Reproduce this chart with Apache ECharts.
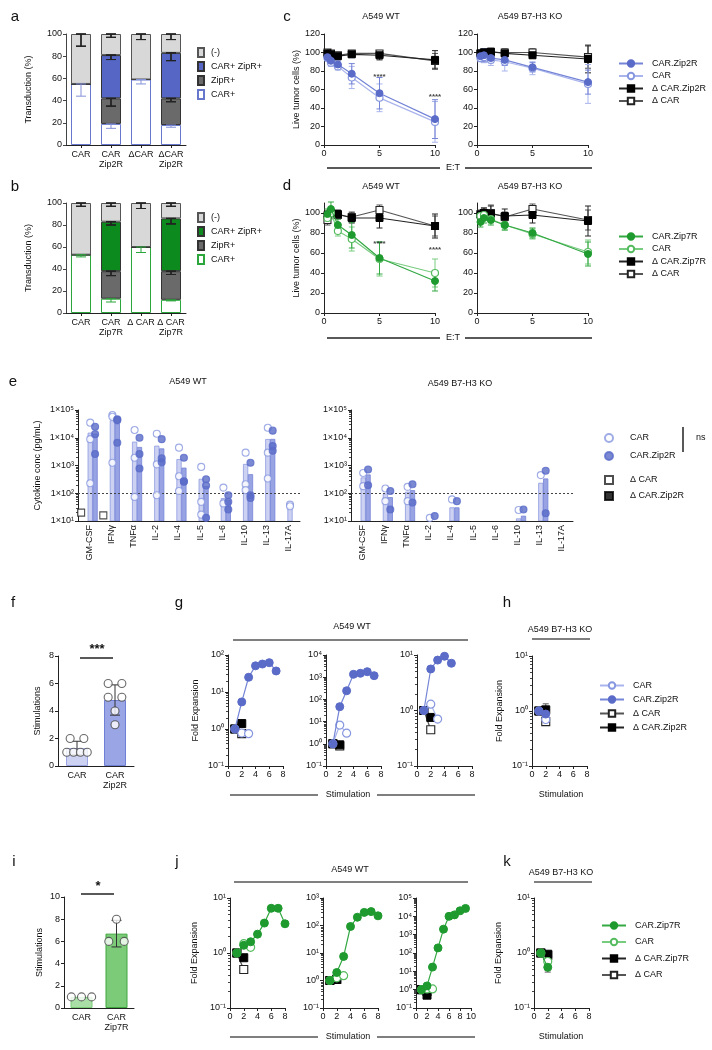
<!DOCTYPE html>
<html><head><meta charset="utf-8">
<script src="https://cdn.jsdelivr.net/npm/echarts@6/dist/echarts.min.js"></script>
<style>html,body{margin:0;padding:0;background:#fff}#c{width:712px;height:1050px}</style>
</head><body><div id="c"></div><script>
// ================= DATA =================
// a / b : transduction (stacked %, bottom -> top: CAR+, ZipR+, CAR+ ZipR+, (-))
const a_categories = ['CAR', 'CAR\nZip2R', 'ΔCAR', 'ΔCAR\nZip2R'];
const a_carPos   = [55, 19, 59, 18];
const a_zipPos   = [0, 23, 0, 24];
const a_double   = [0, 39, 0, 41];
const a_negative = [45, 19, 41, 17];
const a_sdCarPos = [11, 4, 4, 2];
const a_sdZipPos = [0, 7, 0, 3];
const a_sdDouble = [0, 4, 0, 7];
const a_sdNegative = [11, 3, 5, 5];

const b_categories = ['CAR', 'CAR\nZip7R', 'Δ CAR', 'Δ CAR\nZip7R'];
const b_carPos   = [53, 13, 60, 12];
const b_zipPos   = [0, 25, 0, 26];
const b_double   = [0, 45, 0, 48];
const b_negative = [47, 17, 40, 14];
const b_sdCarPos = [2, 3, 5, 1];
const b_sdZipPos = [0, 4, 0, 3];
const b_sdDouble = [0, 3, 0, 5];
const b_sdNegative = [3, 3, 5, 3];

// c / d : killing vs E:T
const et_ratios = [0.3125, 0.625, 1.25, 2.5, 5, 10];
const c_wt_zip  = [95, 91, 87, 77, 56, 28];
const c_wt_car  = [94, 89, 85, 73, 51, 25];
const c_wt_dzip = [99, 98, 96, 98, 97, 92];
const c_wt_dcar = [100, 99, 97, 99, 99, 91];
const c_wt_sdZip  = [3, 4, 4, 11, 17, 21];
const c_wt_sdCar  = [3, 4, 4, 12, 15, 22];
const c_wt_sdDzip = [2, 2, 3, 3, 5, 10];
const c_wt_sdDcar = [2, 2, 2, 3, 3, 8];
const c_ko_zip  = [96, 97, 94, 92, 84, 68];
const c_ko_car  = [94, 95, 92, 90, 83, 66];
const c_ko_dzip = [99, 100, 101, 99, 97, 93];
const c_ko_dcar = [99, 100, 100, 100, 100, 95];
const c_ko_sdZip  = [5, 7, 5, 6, 5, 13];
const c_ko_sdCar  = [4, 6, 6, 10, 7, 21];
const c_ko_sdDzip = [3, 4, 3, 4, 3, 15];
const c_ko_sdDcar = [3, 3, 3, 4, 4, 12];
const c_stars = [[5, 74], [10, 52]];

const d_wt_zip  = [99, 104, 88, 78, 55, 32];
const d_wt_car  = [95, 100, 82, 74, 54, 40];
const d_wt_dzip = [98, 100, 99, 95, 95, 87];
const d_wt_dcar = [93, 100, 98, 96, 103, 87];
const d_wt_sdZip  = [5, 7, 6, 13, 16, 10];
const d_wt_sdCar  = [4, 6, 5, 12, 17, 14];
const d_wt_sdDzip = [4, 5, 4, 5, 10, 12];
const d_wt_sdDcar = [5, 5, 4, 5, 5, 10];
const d_ko_zip  = [91, 95, 93, 88, 80, 59];
const d_ko_car  = [97, 98, 94, 88, 79, 61];
const d_ko_dzip = [98, 100, 99, 97, 98, 92];
const d_ko_dcar = [99, 100, 100, 96, 104, 93];
const d_ko_sdZip  = [5, 5, 5, 5, 5, 12];
const d_ko_sdCar  = [4, 4, 4, 5, 5, 12];
const d_ko_sdDzip = [4, 5, 8, 7, 8, 15];
const d_ko_sdDcar = [4, 5, 8, 5, 5, 10];
const d_stars = [[5, 69], [10, 63]];

// e : cytokines (pg/mL)
const e_cytokines = ['GM-CSF', 'IFNγ', 'TNFα', 'IL-2', 'IL-4', 'IL-5', 'IL-6', 'IL-10', 'IL-13', 'IL-17A'];
const e_wt_car_points = [[35000, 8900, 230], [66000, 57000, 1260], [19000, 1900, 74], [14000, 1100, 85], [4400, 410, 120], [890, 49, 17], [160, 43], [2900, 210, 130], [23000, 2900, 340], [39, 34]];
const e_wt_zip_points = [[25000, 13500, 2600], [46000, 43000, 6600], [10000, 2600, 780], [8900, 1800, 1300], [1900, 270, 260], [320, 190, 13], [85, 49, 26], [1260, 85, 68], [18000, 5000, 3400], []];
const e_wt_car_mean = [14700, 41000, 7000, 5000, 1650, 320, 65, 1100, 8700, 36];
const e_wt_zip_mean = [13700, 32000, 4500, 4000, 810, 175, 55, 470, 8800, null];
const e_wt_dcar_points = [[20], [16], [], [], [], [], [], [], [], []];
const e_wt_dzip_points = [[], [], [], [], [], [], [], [], [], []];
const e_ko_car_points = [[540, 180], [148, 52], [170, 52], [13], [60], [], [], [25], [450], []];
const e_ko_zip_points = [[720, 195], [120, 26], [210, 46], [15], [52], [], [], [26], [650, 19], []];
const e_ko_car_mean = [360, 95, 110, null, 30, null, null, 12, 230, null];
const e_ko_zip_mean = [460, 70, 125, null, 30, null, null, 15, 330, null];
const e_ko_dcar_points = [[], [], [], [], [], [], [], [], [], []];
const e_ko_dzip_points = [[], [], [], [], [], [], [], [], [], []];

// f / i : number of stimulations
const f_categories = ['CAR', 'CAR\nZip2R'];
const f_mean = [1.3, 4.8];
const f_sd = [0.5, 1.1];
const f_car_points = [2, 2, 1, 1, 1, 1];
const f_zip_points = [6, 6, 5, 5, 4, 3];
const i_categories = ['CAR', 'CAR\nZip7R'];
const i_mean = [1, 6.7];
const i_sd = [0, 1.2];
const i_car_points = [1, 1, 1];
const i_zip_points = [6, 8, 6];

// g / h / j / k : fold expansion per stimulation  [stimulation, fold]
const g1_zip = [[1, 1], [2, 5.4], [3, 25], [4, 51], [5, 57], [6, 62], [7, 37]];
const g1_car = [[1, 1], [2, 0.78], [3, 0.75]];
const g1_dcar = [[1, 1], [2, 0.75]];
const g1_dzip = [[1, 1], [2, 1.4]];
const g2_zip = [[1, 1], [2, 47], [3, 245], [4, 1350], [5, 1500], [6, 1770], [7, 1170]];
const g2_car = [[1, 1], [2, 7], [3, 3]];
const g2_dcar = [[1, 1], [2, 0.8]];
const g2_dzip = [[1, 1], [2, 0.9]];
const g3_zip = [[1, 1], [2, 5.6], [3, 8.1], [4, 9.5], [5, 7.1]];
const g3_car = [[1, 1], [2, 1.3], [3, 0.7]];
const g3_dcar = [[1, 1], [2, 0.45]];
const g3_dzip = [[1, 1], [2, 0.75]];
const h_car = [[1, 1], [2, 0.7]];
const h_zip = [[1, 1], [2, 0.88]];
const h_dcar = [[1, 1], [2, 0.64]];
const h_dzip = [[1, 1], [2, 1.05]];
const h_err = [[2, 0.8, 1.35]];
const j1_zip = [[1, 1], [2, 1.38], [3, 1.6], [4, 2.2], [5, 3.5], [6, 6.5], [7, 6.5], [8, 3.4]];
const j1_car = [[1, 1], [2, 1.48], [3, 1.27]];
const j1_dzip = [[1, 1], [2, 0.82]];
const j1_dcar = [[1, 1], [2, 0.5]];
const j2_zip = [[1, 1], [2, 1.95], [3, 7.5], [4, 92], [5, 200], [6, 300], [7, 320], [8, 225]];
const j2_car = [[1, 1], [2, 1.25], [3, 1.5]];
const j2_dzip = [[1, 1], [2, 1.1]];
const j2_dcar = [[1, 1], [2, 1.1]];
const j3_zip = [[1, 1], [2, 1.6], [3, 17], [4, 190], [5, 2000], [6, 10000], [7, 12000], [8, 20000], [9, 27000]];
const j3_car = [[1, 1], [2, 1.1], [3, 1.1]];
const j3_dzip = [[1, 1], [2, 0.5]];
const j3_dcar = [[1, 1], [2, 0.8]];
const k_zip = [[1, 1], [2, 0.55]];
const k_car = [[1, 1], [2, 0.7]];
const k_dzip = [[1, 1], [2, 0.95]];
const k_dcar = [[1, 1], [2, 0.9]];
const k_err = [[2, 0.45, 0.7], [2, 0.8, 1.05]];

// ================= STYLE =================
const FONT = 'Liberation Sans, Arial, Helvetica, sans-serif';
const TXT = '#111';
const BLUE = '#5a6bc8', BLUE_L = '#8797df', BLUE_LINE = '#7484d6', BLUE_PALE = '#aab4ec';
const GREEN = '#1f9a2f', GREEN_L = '#55bb5f', GREEN_LINE = '#33a843';
const ST = {
  zip2: {symbol: 'circle', size: 7, fill: BLUE, stroke: BLUE, bw: 1, line: BLUE_LINE, err: BLUE_LINE},
  car2: {symbol: 'circle', size: 7, fill: '#fff', stroke: BLUE_L, bw: 1.2, line: BLUE_PALE, err: BLUE_PALE},
  zip7: {symbol: 'circle', size: 7, fill: GREEN, stroke: GREEN, bw: 1, line: GREEN_LINE, err: GREEN_LINE},
  car7: {symbol: 'circle', size: 7, fill: '#fff', stroke: GREEN_L, bw: 1.2, line: '#78cc80', err: '#78cc80'},
  dzip: {symbol: 'rect', size: 7, fill: '#000', stroke: '#000', bw: 1, line: '#222', err: '#222'},
  dcar: {symbol: 'rect', size: 7, fill: '#fff', stroke: '#222', bw: 1.1, line: '#555', err: '#555'}
};
const E_SLOT = {dcar: -0.36, dzip: -0.16, car: 0.05, zip: 0.27};
const F_JIT_CAR = [-0.18, 0.18, -0.27, -0.09, 0.09, 0.27];
const F_JIT_ZIP = [-0.18, 0.18, -0.18, 0.18, 0, 0];
const I_JIT_CAR = [-0.29, 0, 0.29];
const I_JIT_ZIP = [-0.22, 0, 0.22];

const DISPLAY = {};

// ================= HELPERS =================
const SUP = {'-': '⁻', '0': '⁰', '1': '¹', '2': '²', '3': '³', '4': '⁴', '5': '⁵', '6': '⁶'};
const sup = n => String(n).split('').map(c => SUP[c]).join('');
const logLabel = v => '10' + sup(Math.round(Math.log10(v)));
const logLabelE = v => '1×10' + sup(Math.round(Math.log10(v)));

function merge(a, b) {
  for (const k in b) {
    if (b[k] && typeof b[k] === 'object' && !Array.isArray(b[k]) && a[k] && typeof a[k] === 'object' && !Array.isArray(a[k])) a[k] = merge(Object.assign({}, a[k]), b[k]);
    else a[k] = b[k];
  }
  return a;
}
function axisBase(extra) {
  return merge({
    axisLine: {show: true, onZero: false, lineStyle: {color: '#222', width: 1}},
    axisTick: {show: true, length: 3, lineStyle: {color: '#222', width: 1}},
    axisLabel: {fontSize: 9, color: TXT, fontFamily: FONT, margin: 4},
    splitLine: {show: false},
    nameTextStyle: {fontSize: 9, color: TXT, fontFamily: FONT},
    nameLocation: 'middle', nameRotate: 90
  }, extra);
}
const option = {animation: false, backgroundColor: '#fff', textStyle: {fontFamily: FONT},
  grid: [], xAxis: [], yAxis: [], series: [], legend: [], graphic: []};
function addGrid(r) { option.grid.push({left: r[0], top: r[1], width: r[2], height: r[3]}); return option.grid.length - 1; }
function addX(g, spec) { option.xAxis.push(axisBase(Object.assign({gridIndex: g}, spec))); return option.xAxis.length - 1; }
function addY(g, spec) { option.yAxis.push(axisBase(Object.assign({gridIndex: g}, spec))); return option.yAxis.length - 1; }

function errSeries(xi, yi, data, color, capW, z) {
  return {type: 'custom', xAxisIndex: xi, yAxisIndex: yi, silent: true, z: z || 2, data,
    encode: {x: 0, y: [1, 2]},
    renderItem: function (params, api) {
      const x = api.value(0), lo = api.value(1), hi = api.value(2);
      const p1 = api.coord([x, hi]), p2 = api.coord([x, lo]);
      const style = {stroke: color, lineWidth: 1, fill: null};
      return {type: 'group', children: [
        {type: 'line', shape: {x1: p1[0], y1: p1[1], x2: p2[0], y2: p2[1]}, style},
        {type: 'line', shape: {x1: p1[0] - capW, y1: p1[1], x2: p1[0] + capW, y2: p1[1]}, style},
        {type: 'line', shape: {x1: p2[0] - capW, y1: p2[1], x2: p2[0] + capW, y2: p2[1]}, style}
      ]};
    }};
}
function lineSeries(name, disp, xi, yi, data, st, z) {
  DISPLAY[name] = disp;
  return {type: 'line', name, xAxisIndex: xi, yAxisIndex: yi, data, symbol: st.symbol, symbolSize: st.size,
    showSymbol: true, showAllSymbol: true, z: z || 4,
    itemStyle: {color: st.fill, borderColor: st.stroke, borderWidth: st.bw},
    lineStyle: {color: st.line, width: 1.2}};
}
function pair(xs, ys) { return xs.map((x, i) => [x, ys[i]]); }
function errData(xs, ys, sds) { return xs.map((x, i) => [x, ys[i] - sds[i], ys[i] + sds[i]]); }

function text(x, y, s, o) {
  option.graphic.push({type: 'text', silent: true, style: Object.assign({x, y, text: s, fill: TXT, fontSize: 9,
    fontFamily: FONT, align: 'center', verticalAlign: 'middle'}, o || {})});
}
function hline(x1, x2, y, o) {
  option.graphic.push({type: 'line', silent: true, shape: {x1, y1: y, x2, y2: y},
    style: Object.assign({stroke: '#222', lineWidth: 1.5}, o || {})});
}

// ================= a / b =================
function stackedPanel(rect, cats, segs, sds, colors, names, legendTop, yName) {
  const g = addGrid(rect);
  const xi = addX(g, {type: 'category', data: cats, axisTick: {alignWithLabel: true},
    axisLabel: {interval: 0, lineHeight: 10, margin: 5}});
  const yi = addY(g, {type: 'value', min: 0, max: 100, interval: 20, name: yName, nameGap: 33,
    axisLine: {lineStyle: {color: '#444'}}, axisTick: {lineStyle: {color: '#444'}}});
  segs.forEach((arr, s) => {
    option.series.push({type: 'bar', name: names[s], xAxisIndex: xi, yAxisIndex: yi, stack: 'st' + g, barWidth: 20,
      data: arr, z: 2, itemStyle: {color: colors[s].fill, borderColor: colors[s].stroke, borderWidth: 1}});
  });
  const err = [];
  cats.forEach((c, i) => {
    let cum = 0;
    segs.forEach((arr, s) => {
      cum += arr[i];
      if (sds[s][i] > 0) err.push({value: [i, cum - sds[s][i], cum], c: colors[s].err});
    });
  });
  colors.forEach((col) => {
    const d = err.filter(e => e.c === col.err).map(e => e.value);
    option.series.push(errSeries(xi, yi, d, col.err, 5, 3));
  });
  option.legend.push({orient: 'vertical', left: 192, top: legendTop, itemWidth: 6, itemHeight: 9, itemGap: 3,
    icon: 'rect', data: names.slice().reverse(), formatter: n => DISPLAY[n] || n,
    textStyle: {fontSize: 9, color: TXT, fontFamily: FONT, padding: [0, 0, 0, 2]}, selectedMode: false});
}
const names_a = ['a:CAR+', 'a:ZipR+', 'a:CAR+ ZipR+', 'a:(-)'];
const names_b = ['b:CAR+', 'b:ZipR+', 'b:CAR+ ZipR+', 'b:(-)'];
[names_a, names_b].forEach(arr => arr.forEach(n => DISPLAY[n] = n.slice(2)));
stackedPanel([66, 34, 120, 111], a_categories, [a_carPos, a_zipPos, a_double, a_negative],
  [a_sdCarPos, a_sdZipPos, a_sdDouble, a_sdNegative],
  [{fill: '#fff', stroke: '#6677cc', err: '#8391d8'}, {fill: '#6a6a6a', stroke: '#333', err: '#222'},
   {fill: '#5566c4', stroke: '#333', err: '#222'}, {fill: '#d8d8d8', stroke: '#555', err: '#222'}],
  names_a, 42, 'Transduction (%)');
stackedPanel([66, 203, 120, 110], b_categories, [b_carPos, b_zipPos, b_double, b_negative],
  [b_sdCarPos, b_sdZipPos, b_sdDouble, b_sdNegative],
  [{fill: '#fff', stroke: '#2aa63a', err: '#2aa63a'}, {fill: '#6a6a6a', stroke: '#333', err: '#222'},
   {fill: '#0d8a1d', stroke: '#333', err: '#222'}, {fill: '#d8d8d8', stroke: '#555', err: '#222'}],
  names_b, 207, 'Transduction (%)');

// ================= c / d =================
function etPanel(rect, ymax, yName, sets, stars) {
  const g = addGrid(rect);
  const xi = addX(g, {type: 'value', min: 0, max: 10, interval: 5});
  const yspec = {type: 'value', min: 0, max: ymax, interval: 20, name: yName, nameGap: 21};
  if (ymax === 110) { yspec.axisLabel = {customValues: [0, 20, 40, 60, 80, 100]}; yspec.axisTick = {customValues: [0, 20, 40, 60, 80, 100]}; }
  const yi = addY(g, yspec);
  sets.forEach(s => option.series.push(errSeries(xi, yi, errData(et_ratios, s.y, s.sd), s.st.err, 3, 2)));
  sets.forEach((s, k) => option.series.push(lineSeries(s.name, s.disp, xi, yi, pair(et_ratios, s.y), s.st, 4 + k)));
  if (stars) option.series.push({type: 'scatter', xAxisIndex: xi, yAxisIndex: yi, data: stars, symbolSize: 0, silent: true,
    label: {show: true, position: 'inside', formatter: '****', fontSize: 8, color: TXT, fontWeight: 'bold'}});
  return g;
}
etPanel([324, 34, 111, 111], 120, 'Live tumor cells (%)', [
  {name: 'c:dcar', disp: 'Δ CAR', y: c_wt_dcar, sd: c_wt_sdDcar, st: ST.dcar},
  {name: 'c:dzip', disp: 'Δ CAR.Zip2R', y: c_wt_dzip, sd: c_wt_sdDzip, st: ST.dzip},
  {name: 'c:car', disp: 'CAR', y: c_wt_car, sd: c_wt_sdCar, st: ST.car2},
  {name: 'c:zip', disp: 'CAR.Zip2R', y: c_wt_zip, sd: c_wt_sdZip, st: ST.zip2}], c_stars);
etPanel([477, 34, 111, 111], 120, '', [
  {name: 'c:dcar', disp: 'Δ CAR', y: c_ko_dcar, sd: c_ko_sdDcar, st: ST.dcar},
  {name: 'c:dzip', disp: 'Δ CAR.Zip2R', y: c_ko_dzip, sd: c_ko_sdDzip, st: ST.dzip},
  {name: 'c:car', disp: 'CAR', y: c_ko_car, sd: c_ko_sdCar, st: ST.car2},
  {name: 'c:zip', disp: 'CAR.Zip2R', y: c_ko_zip, sd: c_ko_sdZip, st: ST.zip2}]);
etPanel([324, 203, 111, 110], 110, 'Live tumor cells (%)', [
  {name: 'd:dcar', disp: 'Δ CAR', y: d_wt_dcar, sd: d_wt_sdDcar, st: ST.dcar},
  {name: 'd:dzip', disp: 'Δ CAR.Zip7R', y: d_wt_dzip, sd: d_wt_sdDzip, st: ST.dzip},
  {name: 'd:car', disp: 'CAR', y: d_wt_car, sd: d_wt_sdCar, st: ST.car7},
  {name: 'd:zip', disp: 'CAR.Zip7R', y: d_wt_zip, sd: d_wt_sdZip, st: ST.zip7}], d_stars);
etPanel([477, 203, 111, 110], 110, '', [
  {name: 'd:dcar', disp: 'Δ CAR', y: d_ko_dcar, sd: d_ko_sdDcar, st: ST.dcar},
  {name: 'd:dzip', disp: 'Δ CAR.Zip7R', y: d_ko_dzip, sd: d_ko_sdDzip, st: ST.dzip},
  {name: 'd:car', disp: 'CAR', y: d_ko_car, sd: d_ko_sdCar, st: ST.car7},
  {name: 'd:zip', disp: 'CAR.Zip7R', y: d_ko_zip, sd: d_ko_sdZip, st: ST.zip7}]);
const lineLegend = (left, top, gap, data) => option.legend.push({orient: 'vertical', left, top, itemWidth: 24, itemHeight: 8,
  itemGap: gap, data, formatter: n => DISPLAY[n] || n, selectedMode: false,
  textStyle: {fontSize: 9, color: TXT, fontFamily: FONT, padding: [0, 0, 0, 4]}});
lineLegend(613, 54, 3.5, ['c:zip', 'c:car', 'c:dzip', 'c:dcar']);
lineLegend(613, 227, 3.5, ['d:zip', 'd:car', 'd:dzip', 'd:dcar']);

// ================= e =================
function flatPts(pts, slot) {
  const out = [];
  pts.forEach((arr, i) => arr.forEach(v => out.push([i + slot, v])));
  return out;
}
function meanPts(means, slot) { return means.map((v, i) => v == null ? null : [i + slot, v]).filter(d => d); }
function barSeries(xi, yi, data, fill, stroke) {
  return {type: 'custom', xAxisIndex: xi, yAxisIndex: yi, silent: true, z: 2, data, encode: {x: 0, y: 1}, clip: true,
    renderItem: function (params, api) {
      const p = api.coord([api.value(0), api.value(1)]);
      const base = api.coord([api.value(0), 10]);
      return {type: 'rect', shape: {x: p[0] - 2.2, y: p[1], width: 4.4, height: base[1] - p[1]},
        style: {fill, stroke, lineWidth: 0.8}};
    }};
}
function ePanel(rect, yName, carPts, zipPts, dcarPts, dzipPts, carMean, zipMean) {
  const g = addGrid(rect);
  addX(g, {type: 'category', data: e_cytokines, axisTick: {show: false},
    axisLabel: {rotate: 90, interval: 0, margin: 4}});
  const xv = addX(g, {type: 'value', min: -0.5, max: 9.5, show: false});
  const yi = addY(g, {type: 'log', logBase: 10, min: 10, max: 100000, name: yName, nameGap: 36,
    axisLabel: {formatter: logLabelE}, minorTick: {show: true, splitNumber: 9, length: 2, lineStyle: {color: '#444'}}});
  option.series.push(barSeries(xv, yi, meanPts(carMean, E_SLOT.car), '#cdd2f3', '#8e9ade'));
  option.series.push(barSeries(xv, yi, meanPts(zipMean, E_SLOT.zip), '#98a3e4', '#7583d6'));
  const sc = (name, disp, data, sym, fill, stroke) => {
    DISPLAY[name] = disp;
    return {type: 'scatter', name, xAxisIndex: xv, yAxisIndex: yi, data, symbol: sym, symbolSize: 7, z: 5,
      itemStyle: {color: fill, borderColor: stroke, borderWidth: 1.1}};
  };
  const s1 = sc('e:car', 'CAR', flatPts(carPts, E_SLOT.car), 'circle', '#fff', BLUE_L);
  s1.markLine = {silent: true, symbol: 'none', data: [{yAxis: 100}], label: {show: false},
    lineStyle: {type: [2, 2], color: '#444', width: 1}};
  option.series.push(s1);
  option.series.push(sc('e:zip', 'CAR.Zip2R', flatPts(zipPts, E_SLOT.zip), 'circle', BLUE, BLUE));
  option.series.push(sc('e:dcar', 'Δ CAR', flatPts(dcarPts, E_SLOT.dcar), 'rect', '#fff', '#222'));
  option.series.push(sc('e:dzip', 'Δ CAR.Zip2R', flatPts(dzipPts, E_SLOT.dzip), 'rect', '#000', '#000'));
}
ePanel([78, 410, 222, 111], 'Cytokine conc (pg/mL)', e_wt_car_points, e_wt_zip_points, e_wt_dcar_points, e_wt_dzip_points, e_wt_car_mean, e_wt_zip_mean);
ePanel([351, 410, 222, 111], '', e_ko_car_points, e_ko_zip_points, e_ko_dcar_points, e_ko_dzip_points, e_ko_car_mean, e_ko_zip_mean);
const dotLegend = (top, gap, data) => option.legend.push({orient: 'vertical', left: 599, top, itemWidth: 8, itemHeight: 8,
  itemGap: gap, data, formatter: n => DISPLAY[n] || n, selectedMode: false,
  textStyle: {fontSize: 9, color: TXT, fontFamily: FONT, padding: [0, 0, 0, 12]}});
dotLegend(428, 8, ['e:car', 'e:zip']);
dotLegend(470, 6, ['e:dcar', 'e:dzip']);

// ================= f / i =================
function stimPanel(rect, cats, means, sds, carPts, zipPts, jitC, jitZ, max, interval, barCols, name) {
  const g = addGrid(rect);
  const xc = addX(g, {type: 'category', data: cats, axisTick: {show: false}, axisLabel: {interval: 0, lineHeight: 10, margin: 5}});
  const xv = addX(g, {type: 'value', min: -0.5, max: 1.5, show: false});
  const yi = addY(g, {type: 'value', min: 0, max, interval, name: 'Stimulations', nameGap: name});
  option.series.push({type: 'bar', xAxisIndex: xc, yAxisIndex: yi, barWidth: 22, z: 2, silent: true,
    data: means.map((v, i) => ({value: v, itemStyle: {color: barCols[i].fill, borderColor: barCols[i].stroke, borderWidth: 1}}))});
  option.series.push(errSeries(xv, yi, means.map((m, i) => [i, m - sds[i], m + sds[i]]).filter((d, i) => sds[i] > 0), '#333', 5, 3));
  const pts = carPts.map((v, k) => [jitC[k], v]).concat(zipPts.map((v, k) => [1 + jitZ[k], v]));
  option.series.push({type: 'scatter', xAxisIndex: xv, yAxisIndex: yi, data: pts, symbol: 'circle', symbolSize: 8, z: 5,
    itemStyle: {color: '#fff', borderColor: '#444', borderWidth: 1.1}});
}
stimPanel([58, 656, 76, 110], f_categories, f_mean, f_sd, f_car_points, f_zip_points, F_JIT_CAR, F_JIT_ZIP, 8, 2,
  [{fill: '#cdd2f2', stroke: '#9aa4e2'}, {fill: '#9aa5e6', stroke: '#7080d4'}], 16);
stimPanel([64, 897, 70, 111], i_categories, i_mean, i_sd, i_car_points, i_zip_points, I_JIT_CAR, I_JIT_ZIP, 10, 2,
  [{fill: '#a9dfa6', stroke: '#7ccc78'}, {fill: '#7ccb79', stroke: '#3fa63f'}], 20);

// ================= g / h / j / k =================
function foldPanel(rect, ymin, ymax, xmax, yName, nameGap, sets, errs) {
  const g = addGrid(rect);
  const xi = addX(g, {type: 'value', min: 0, max: xmax, interval: 2});
  const yi = addY(g, {type: 'log', logBase: 10, min: ymin, max: ymax, name: yName, nameGap,
    axisLabel: {formatter: logLabel}, minorTick: {show: true, splitNumber: 9, length: 2, lineStyle: {color: '#444'}}});
  if (errs) option.series.push(errSeries(xi, yi, errs, '#555', 3, 2));
  sets.forEach((s, k) => option.series.push(lineSeries(s.name, s.disp, xi, yi, s.data, Object.assign({}, s.st, {size: 8}), 4 + k)));
}
const gSets = (car, zip, dcar, dzip) => [
  {name: 'h:dcar', disp: 'Δ CAR', data: dcar, st: ST.dcar},
  {name: 'h:dzip', disp: 'Δ CAR.Zip2R', data: dzip, st: ST.dzip},
  {name: 'h:car', disp: 'CAR', data: car, st: ST.car2},
  {name: 'h:zip', disp: 'CAR.Zip2R', data: zip, st: ST.zip2}];
const jSets = (car, zip, dcar, dzip) => [
  {name: 'k:dcar', disp: 'Δ CAR', data: dcar, st: ST.dcar},
  {name: 'k:dzip', disp: 'Δ CAR.Zip7R', data: dzip, st: ST.dzip},
  {name: 'k:car', disp: 'CAR', data: car, st: ST.car7},
  {name: 'k:zip', disp: 'CAR.Zip7R', data: zip, st: ST.zip7}];
foldPanel([228, 655, 55, 111], 0.1, 100, 8, 'Fold Expansion', 28, gSets(g1_car, g1_zip, g1_dcar, g1_dzip));
foldPanel([326, 655, 55, 111], 0.1, 10000, 8, '', 28, gSets(g2_car, g2_zip, g2_dcar, g2_dzip));
foldPanel([417, 655, 55, 111], 0.1, 10, 8, '', 28, gSets(g3_car, g3_zip, g3_dcar, g3_dzip));
foldPanel([532, 656, 55, 110], 0.1, 10, 8, 'Fold Expansion', 28, gSets(h_car, h_zip, h_dcar, h_dzip), h_err);
foldPanel([230, 898, 55, 110], 0.1, 10, 8, 'Fold Expansion', 31, jSets(j1_car, j1_zip, j1_dcar, j1_dzip));
foldPanel([323, 898, 55, 110], 0.1, 1000, 8, '', 28, jSets(j2_car, j2_zip, j2_dcar, j2_dzip));
foldPanel([416, 898, 55, 110], 0.1, 100000, 10, '', 28, jSets(j3_car, j3_zip, j3_dcar, j3_dzip));
foldPanel([534, 898, 55, 110], 0.1, 10, 8, 'Fold Expansion', 31, jSets(k_car, k_zip, k_dcar, k_dzip), k_err);
lineLegend(594, 676, 5, ['h:car', 'h:zip', 'h:dcar', 'h:dzip']);
lineLegend(596, 916, 7.5, ['k:zip', 'k:car', 'k:dzip', 'k:dcar']);

// ================= annotations =================
const L = {fontSize: 15, fontFamily: FONT};
text(15, 17, 'a', L); text(15, 187, 'b', L); text(287, 17, 'c', L); text(287, 186, 'd', L);
text(13, 382, 'e', L); text(13, 603, 'f', L); text(179, 603, 'g', L); text(507, 603, 'h', L);
text(14, 862, 'i', L); text(177, 862, 'j', L); text(507, 862, 'k', L);
text(381, 17, 'A549 WT'); text(530, 17, 'A549 B7-H3 KO');
text(381, 187, 'A549 WT'); text(530, 187, 'A549 B7-H3 KO');
[168, 338].forEach(y => { hline(327, 440, y); text(453, y, 'E:T'); hline(465, 592, y); });
text(188, 382, 'A549 WT'); text(460, 384, 'A549 B7-H3 KO');
option.graphic.push({type: 'line', silent: true, shape: {x1: 683, y1: 427, x2: 683, y2: 452}, style: {stroke: '#222', lineWidth: 1.5}});
text(696, 438, 'ns', {align: 'left'});
text(352, 627, 'A549 WT'); hline(233, 468, 640, {stroke: '#555'});
text(560, 630, 'A549 B7-H3 KO'); hline(532, 590, 639, {stroke: '#555'});
text(350, 870, 'A549 WT'); hline(234, 468, 882, {stroke: '#555'});
text(561, 873, 'A549 B7-H3 KO'); hline(534, 592, 882, {stroke: '#555'});
[795, 1037].forEach(y => { hline(230, 318, y, {stroke: '#555'}); text(348, y, 'Stimulation'); hline(377, 475, y, {stroke: '#555'}); text(561, y, 'Stimulation'); });
text(97, 649, '***', {fontSize: 13, fontWeight: 'bold'}); hline(80, 113, 658);
text(98, 886, '*', {fontSize: 13, fontWeight: 'bold'}); hline(81, 114, 894);

const chart = echarts.init(document.getElementById('c'), null, {renderer: 'canvas'});
chart.setOption(option);
</script></body></html>
